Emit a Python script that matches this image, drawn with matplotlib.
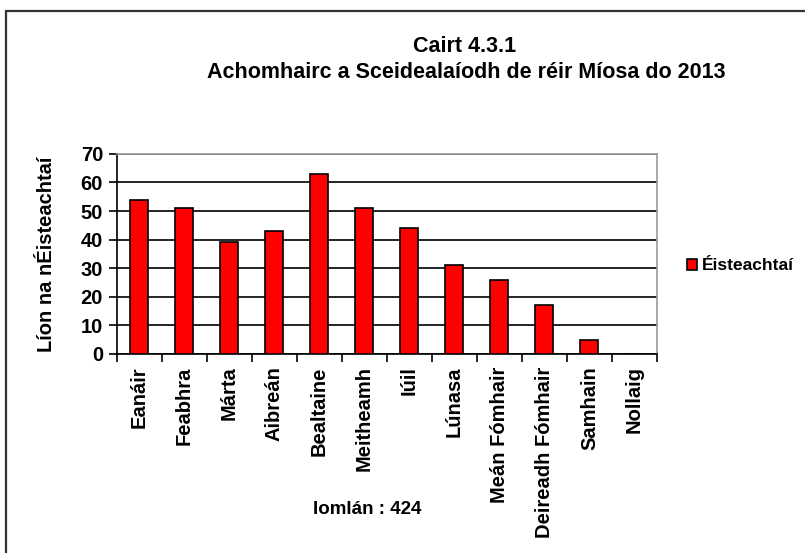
import matplotlib.pyplot as plt
from matplotlib.patches import Rectangle

plt.rcParams['font.family'] = ['Liberation Sans', 'DejaVu Sans']

miosa = ['Eanáir', 'Feabhra', 'Márta', 'Aibreán', 'Bealtaine', 'Meitheamh',
         'Iúil', 'Lúnasa', 'Meán Fómhair', 'Deireadh Fómhair', 'Samhain', 'Nollaig']
eisteachtai = [54, 51, 39, 43, 63, 51, 44, 31, 26, 17, 5, 0]
y_ticks = [0, 10, 20, 30, 40, 50, 60, 70]

fig = plt.figure(figsize=(8.05, 5.53), dpi=100)
# outer frame of the chart object
fig.patches.append(Rectangle((6 / 805, -0.05), 1.0, 1.05 - 11 / 553,
                             transform=fig.transFigure, fill=False,
                             edgecolor='#333333', linewidth=1.6))

ax = fig.add_axes([0.1453, 0.360, 0.6708, 0.3617])
x = list(range(len(miosa)))
ax.bar(x, eisteachtai, width=0.4, color='#ff0000', edgecolor='black',
       linewidth=1.2, zorder=3, label='Éisteachtaí')

ax.set_xlim(-0.5, len(miosa) - 0.5)
ax.set_ylim(0, 70)
ax.set_yticks(y_ticks)
ax.set_yticklabels([str(v) for v in y_ticks], fontsize=14.5, fontweight='bold')
ax.yaxis.grid(True, color='black', linewidth=1.2, zorder=0)

ax.set_xticks(x)
ax.set_xticklabels(miosa, rotation=90, fontsize=14.5, fontweight='bold')
ax.tick_params(axis='x', length=0, pad=9)
ax.set_xticks([i - 0.5 for i in range(len(miosa) + 1)], minor=True)
ax.tick_params(axis='x', which='minor', length=6, width=1.2, direction='out')
ax.tick_params(axis='y', length=6, width=1.2, direction='out', pad=4)

for s in ['top', 'right']:
    ax.spines[s].set_color('#999999')
    ax.spines[s].set_linewidth(1.2)
for s in ['left', 'bottom']:
    ax.spines[s].set_color('black')
    ax.spines[s].set_linewidth(1.2)

ax.set_ylabel('Líon na nÉisteachtaí', fontsize=14.5, fontweight='bold')
ax.yaxis.set_label_coords(-0.112, 0.5)

fig.text(465 / 805, 1 - 46 / 553, 'Cairt 4.3.1', ha='center', va='center',
         fontsize=15.5, fontweight='bold')
fig.text(466 / 805, 1 - 73 / 553, 'Achomhairc a Sceidealaíodh de réir Míosa do 2013',
         ha='center', va='center', fontsize=15.5, fontweight='bold')
fig.text(367 / 805, 1 - 510 / 553, 'Iomlán : 424', ha='center', va='center',
         fontsize=13.5, fontweight='bold')

fig.legend(loc='center left', bbox_to_anchor=(687 / 805, 1 - 266 / 553),
           frameon=False, borderpad=0, borderaxespad=0,
           handlelength=0.6, handleheight=0.6,
           handletextpad=0.25, prop={'weight': 'bold', 'size': 12.5})

fig.savefig('out.png', dpi=100)
